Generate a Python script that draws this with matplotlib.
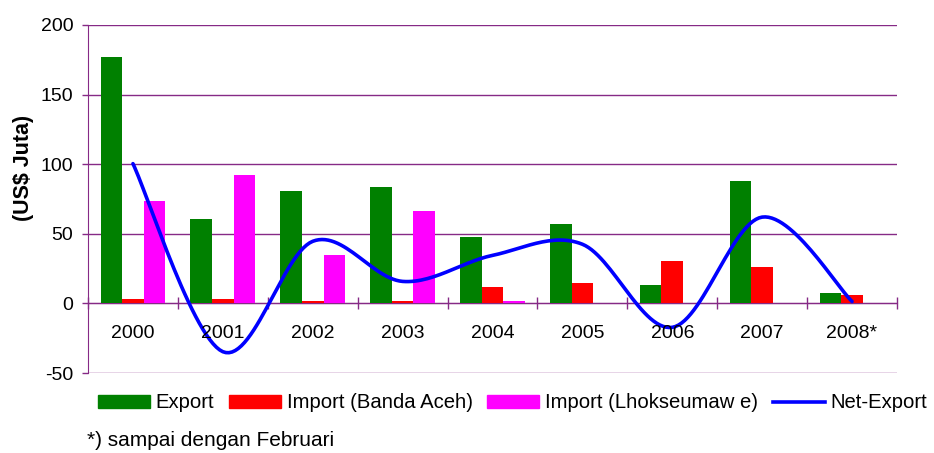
import numpy as np
import matplotlib
matplotlib.use("Agg")
import matplotlib.pyplot as plt
from matplotlib.patches import Patch
from matplotlib.lines import Line2D

plt.rcParams['font.family'] = ['Liberation Sans', 'DejaVu Sans']

years = ["2000", "2001", "2002", "2003", "2004", "2005", "2006", "2007", "2008*"]
export = [177, 60.6, 80.8, 83.7, 47.7, 57, 13.2, 88, 7.4]
import_banda = [3, 3, 1.5, 1.5, 11.7, 15, 30.4, 26.1, 6]
import_lhok = [73.6, 92.3, 34.7, 66.4, 1.5, 0, 0, 0, 0]
net_export = [100.4, -34.7, 44.6, 15.8, 34.5, 42.5, -17.2, 62, 1.4]

series_labels = ["Export", "Import (Banda Aceh)", "Import (Lhokseumaw e)", "Net-Export"]
y_ticks = [-50, 0, 50, 100, 150, 200]

GREEN = "#008000"
RED = "#FF0000"
MAGENTA = "#FF00FF"
BLUE = "#0000FF"
PURPLE = "#862A86"

fig = plt.figure(figsize=(9.34, 4.53), dpi=100)
ax = fig.add_axes([88/934, 1-373/453, (897-88)/934, (373-25)/453])

x = np.arange(len(years))
w = 0.24
ax.bar(x - w, export, w, color=GREEN, zorder=3)
ax.bar(x, import_banda, w, color=RED, zorder=3)
ax.bar(x + w, import_lhok, w, color=MAGENTA, zorder=3)

# Smoothed line (Catmull-Rom style Bezier through data points, like Excel smoothing)
px = x.astype(float)
py = np.array(net_export, dtype=float)
n = len(px)
sx, sy = [], []
t = np.linspace(0, 1, 30)
for i in range(n - 1):
    p0 = np.array([px[max(i-1, 0)], py[max(i-1, 0)]])
    p1 = np.array([px[i], py[i]])
    p2 = np.array([px[i+1], py[i+1]])
    p3 = np.array([px[min(i+2, n-1)], py[min(i+2, n-1)]])
    c1 = p1 + (p2 - p0) / 6.0
    c2 = p2 - (p3 - p1) / 6.0
    for tt in t:
        b = ((1-tt)**3)*p1 + 3*((1-tt)**2)*tt*c1 + 3*(1-tt)*tt**2*c2 + tt**3*p2
        sx.append(b[0]); sy.append(b[1])
ax.plot(sx, sy, color=BLUE, lw=2.6, zorder=4, solid_capstyle='round')

ax.set_xlim(-0.5, len(years) - 0.5)
ax.set_ylim(-50, 200)
ax.set_yticks(y_ticks)
ax.set_yticklabels([str(v) for v in y_ticks], fontsize=14)
ax.yaxis.grid(True, color=PURPLE, lw=1, zorder=1)
ax.set_axisbelow(True)

for s in ['top', 'right']:
    ax.spines[s].set_visible(False)
ax.spines['left'].set_color(PURPLE)
ax.spines['bottom'].set_position(('data', 0))
ax.spines['bottom'].set_color(PURPLE)
ax.tick_params(axis='y', colors=PURPLE, labelcolor='black', length=4.5, width=1, pad=6)

ax.set_xticks(np.arange(-0.5, len(years), 1.0))
ax.set_xticklabels([])
ax.tick_params(axis='x', colors=PURPLE, direction='inout', length=8, width=1)

for i, lab in enumerate(years):
    ax.text(i, -21.5, lab, ha='center', va='center', fontsize=14, zorder=5)

fig.text(23/934, 1-168/453, "(US$ Juta)", rotation=90, ha='center', va='center',
         fontsize=15.5, fontweight='bold')

handles = [Patch(color=GREEN), Patch(color=RED), Patch(color=MAGENTA),
           Line2D([0], [0], color=BLUE, lw=2.6)]
fig.legend(handles, series_labels, loc='center left', bbox_to_anchor=(98/934, 1-403/453),
           ncol=4, frameon=False, fontsize=14.6, handlelength=2.55, handleheight=0.6,
           handletextpad=0.3, columnspacing=0.72, borderaxespad=0, borderpad=0)

fig.text(87/934, 1-441/453, "*) sampai dengan Februari", ha='left', va='center', fontsize=15)

fig.savefig("out.png", dpi=100)
